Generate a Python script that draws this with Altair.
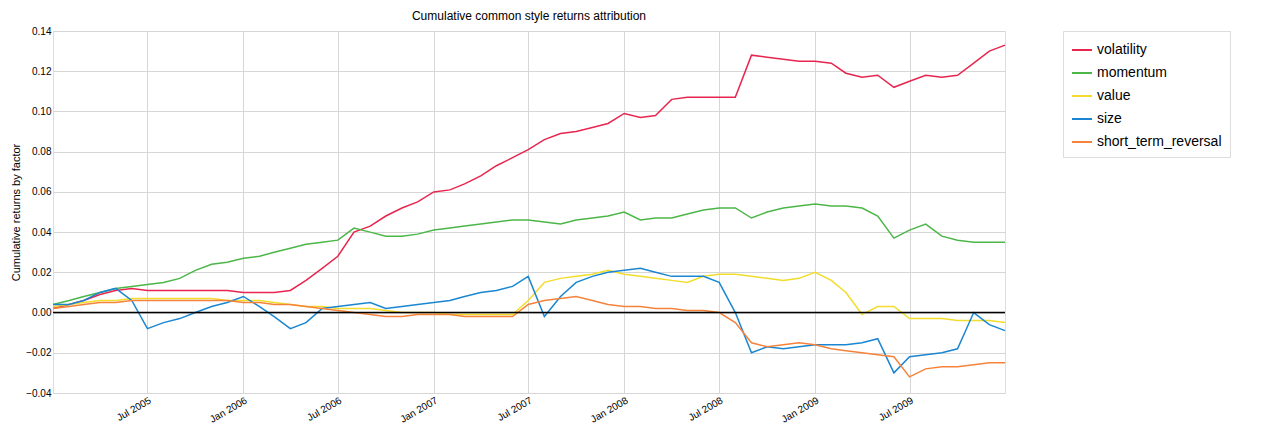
import pandas as pd
import altair as alt

factors = ['volatility', 'momentum', 'value', 'size', 'short_term_reversal']
colors = ['#e8254f', '#4cb648', '#f2dc2c', '#1a86d1', '#f5833a']

dates = list(pd.date_range('2005-01-01', '2009-12-01', freq='MS').strftime('%Y-%m-%d')) + ['2009-12-31']

volatility = [
    .002, .004, .006, .009, .011, .012, .011, .011, .011, .011, .011, .011,
    .010, .010, .010, .011, .016, .022, .028, .040, .043, .048, .052, .055,
    .060, .061, .064, .068, .073, .077, .081, .086, .089, .090, .092, .094,
    .099, .097, .098, .106, .107, .107, .107, .107, .128, .127, .126, .125,
    .125, .124, .119, .117, .118, .112, .115, .118, .117, .118, .124, .130, .133]
momentum = [
    .004, .006, .008, .010, .012, .013, .014, .015, .017, .021, .024, .025,
    .027, .028, .030, .032, .034, .035, .036, .042, .040, .038, .038, .039,
    .041, .042, .043, .044, .045, .046, .046, .045, .044, .046, .047, .048,
    .050, .046, .047, .047, .049, .051, .052, .052, .047, .050, .052, .053,
    .054, .053, .053, .052, .048, .037, .041, .044, .038, .036, .035, .035, .035]
value = [
    .003, .004, .005, .006, .006, .007, .007, .007, .007, .007, .007, .006,
    .006, .006, .005, .004, .003, .003, .002, .002, .002, .001, .000, .000,
    .000, -.001, -.001, -.001, -.001, -.001, .006, .015, .017, .018, .019, .021,
    .019, .018, .017, .016, .015, .018, .019, .019, .018, .017, .016, .017,
    .020, .016, .010, -.001, .003, .003, -.003, -.003, -.003, -.004, -.004, -.004, -.005]
size = [
    .004, .004, .006, .010, .012, .006, -.008, -.005, -.003, .000, .003, .005,
    .008, .003, -.002, -.008, -.005, .002, .003, .004, .005, .002, .003, .004,
    .005, .006, .008, .010, .011, .013, .018, -.002, .008, .015, .018, .020,
    .021, .022, .020, .018, .018, .018, .015, .000, -.020, -.017, -.018, -.017,
    -.016, -.016, -.016, -.015, -.013, -.030, -.022, -.021, -.020, -.018, .000, -.006, -.009]
short_term_reversal = [
    .002, .003, .004, .005, .005, .006, .006, .006, .006, .006, .006, .006,
    .005, .005, .004, .004, .003, .002, .001, .000, -.001, -.002, -.002, -.001,
    -.001, -.001, -.002, -.002, -.002, -.002, .004, .006, .007, .008, .006, .004,
    .003, .003, .002, .002, .001, .001, .000, -.005, -.015, -.017, -.016, -.015,
    -.016, -.018, -.019, -.020, -.021, -.022, -.032, -.028, -.027, -.027, -.026, -.025, -.025]

series = [volatility, momentum, value, size, short_term_reversal]
rows = []
for name, vals in zip(factors, series):
    for d, v in zip(dates, vals):
        rows.append({'date': d, 'factor': name, 'value': v})
df = pd.DataFrame(rows)

tick_dates = [alt.DateTime(year=y, month=m, date=1)
              for y, m in [(2005, 7), (2006, 1), (2006, 7), (2007, 1), (2007, 7),
                           (2008, 1), (2008, 7), (2009, 1), (2009, 7)]]

lines = alt.Chart(df).mark_line(strokeWidth=1.5).encode(
    x=alt.X('date:T', title=None,
            scale=alt.Scale(domain=[alt.DateTime(year=2005, month=1, date=1),
                                    alt.DateTime(year=2009, month=12, date=31)]),
            axis=alt.Axis(values=tick_dates, format='%b %Y', labelAngle=-30,
                          labelAlign='right', labelFontSize=10, gridColor='#d6d6d6',
                          domain=False, ticks=False)),
    y=alt.Y('value:Q', title='Cumulative returns by factor',
            scale=alt.Scale(domain=[-0.04, 0.14], nice=False),
            axis=alt.Axis(format='.2f', values=[-0.04, -0.02, 0, 0.02, 0.04, 0.06, 0.08,
                                                 0.10, 0.12, 0.14],
                          labelFontSize=10, titleFontSize=11,
                          titleFontWeight='normal', gridColor='#d6d6d6',
                          domain=False, ticks=False)),
    color=alt.Color('factor:N', title=None,
                    scale=alt.Scale(domain=factors, range=colors),
                    legend=alt.Legend(orient='right', offset=55, labelFontSize=14,
                                      symbolType='stroke', symbolStrokeWidth=2,
                                      symbolSize=400, strokeColor='#dddddd',
                                      padding=8, rowPadding=5)),
    order=alt.Order('date:T'),
)

zero = alt.Chart(pd.DataFrame({'y': [0]})).mark_rule(color='black', strokeWidth=1.5).encode(
    y='y:Q')

chart = (lines + zero).properties(
    width=952, height=362,
    title=alt.TitleParams('Cumulative common style returns attribution',
                          fontSize=12, fontWeight='normal', offset=3),
).configure_view(stroke='#d6d6d6').configure(font='Liberation Sans', padding=2)

chart.save("out.html", embed_options={"renderer": "svg", "actions": False})
